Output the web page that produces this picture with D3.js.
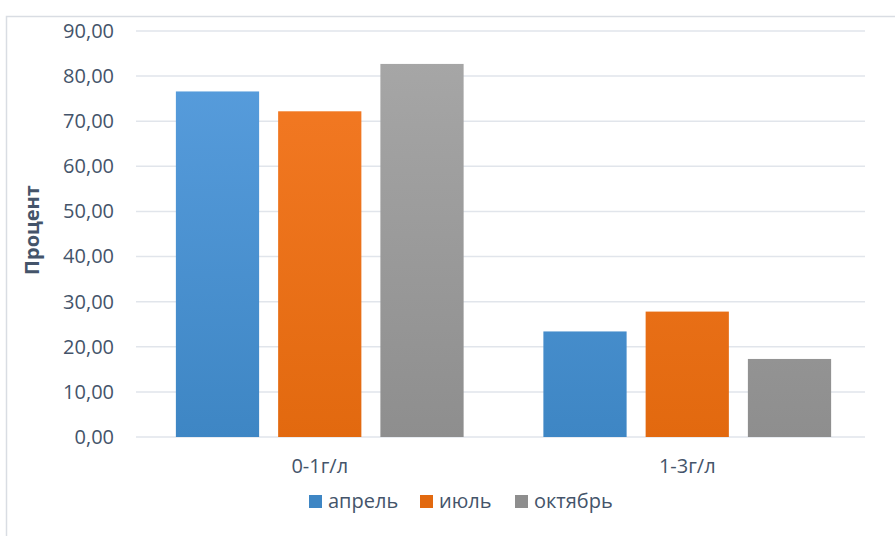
<!DOCTYPE html>
<html>
<head>
<meta charset="utf-8">
<script src="https://cdn.jsdelivr.net/npm/d3@7"></script>
<style>
  body { margin: 0; background: #fff; }
  svg { display: block; font-family: "Open Sans", sans-serif; }
  .axis text { fill: #44546a; font-size: 20px; font-family: "Open Sans", sans-serif; }
  .axis .domain { display: none; }
</style>
</head>
<body>
<svg id="chart"></svg>
<script>
// data
var categories = ['0-1г/л', '1-3г/л'];
var seriesNames = ['апрель', 'июль', 'октябрь'];
var april = [76.6, 23.4];
var july = [72.2, 27.8];
var october = [82.7, 17.3];
var yTicks = [0, 10, 20, 30, 40, 50, 60, 70, 80, 90];

var seriesValues = [april, july, october];
var colorsTop = ['#5a9fdf', '#f57b26', '#a8a8a8'];
var colorsBottom = ['#3e86c4', '#e2690f', '#8e8e8e'];

var width = 895;
var height = 536;
var plotLeft = 136, plotRight = 871, plotTop = 31, plotBottom = 437;

var svg = d3.select('#chart')
  .attr('width', width)
  .attr('height', height);

// chart area border
svg.append('rect')
  .attr('x', 6.5)
  .attr('y', 16.5)
  .attr('width', width + 10)
  .attr('height', height + 10)
  .attr('fill', '#fff')
  .attr('stroke', '#d9dde3')
  .attr('stroke-width', 1.5);

var defs = svg.append('defs');
seriesNames.forEach(function(s, i) {
  var g = defs.append('linearGradient')
    .attr('id', 'grad' + i)
    .attr('gradientUnits', 'userSpaceOnUse')
    .attr('x1', 0).attr('x2', 0)
    .attr('y1', plotTop).attr('y2', plotBottom);
  g.append('stop').attr('offset', '0%').attr('stop-color', colorsTop[i]);
  g.append('stop').attr('offset', '100%').attr('stop-color', colorsBottom[i]);
});

var y = d3.scaleLinear()
  .domain([0, 90])
  .range([plotBottom, plotTop]);

var x0 = d3.scaleBand()
  .domain(categories)
  .range([plotLeft, plotRight]);

var x1 = d3.scaleBand()
  .domain(seriesNames)
  .range([0, x0.bandwidth()])
  .paddingInner(0.186)
  .paddingOuter(0.39);

// gridlines
svg.append('g')
  .selectAll('line')
  .data(yTicks)
  .enter()
  .append('line')
  .attr('x1', plotLeft)
  .attr('x2', plotRight - 6)
  .attr('y1', d => y(d))
  .attr('y2', d => y(d))
  .attr('stroke', '#e1e5eb')
  .attr('stroke-width', 1.5);

var yAxis = d3.axisLeft(y)
  .tickValues(yTicks)
  .tickSize(0)
  .tickPadding(22)
  .tickFormat(d => d3.format('.2f')(d).replace('.', ','));

svg.append('g')
  .attr('class', 'axis')
  .attr('transform', `translate(${plotLeft}, 0)`)
  .call(yAxis);

// bars
var groups = svg.selectAll('.group')
  .data(categories)
  .enter()
  .append('g')
  .attr('transform', d => `translate(${x0(d)}, 0)`);

groups.selectAll('rect')
  .data((c, ci) => seriesNames.map((s, si) => ({ s: s, si: si, v: seriesValues[si][ci] })))
  .enter()
  .append('rect')
  .attr('x', d => x1(d.s))
  .attr('width', x1.bandwidth())
  .attr('y', d => y(d.v))
  .attr('height', d => y(0) - y(d.v))
  .attr('fill', d => `url(#grad${d.si})`);

var xAxis = d3.axisBottom(x0)
  .tickSize(0)
  .tickPadding(22);

svg.append('g')
  .attr('class', 'axis')
  .attr('transform', `translate(0, ${plotBottom})`)
  .call(xAxis);

// y label
svg.append('text')
  .text('Процент')
  .attr('transform', 'translate(39, 230) rotate(-90)')
  .style('text-anchor', 'middle')
  .style('font-weight', 700)
  .style('font-size', '20px')
  .attr('fill', '#44546a');

// legend
var legendX = [309, 420, 515];
var legend = svg.selectAll('.legend')
  .data(seriesNames)
  .enter()
  .append('g')
  .attr('transform', (d, i) => `translate(${legendX[i]}, 495)`);

legend.append('rect')
  .attr('width', 13)
  .attr('height', 13)
  .attr('fill', (d, i) => colorsBottom[i]);

legend.append('text')
  .text(d => d)
  .attr('x', 19)
  .attr('y', 13)
  .style('font-size', '20px')
  .attr('fill', '#44546a');
</script>
</body>
</html>
